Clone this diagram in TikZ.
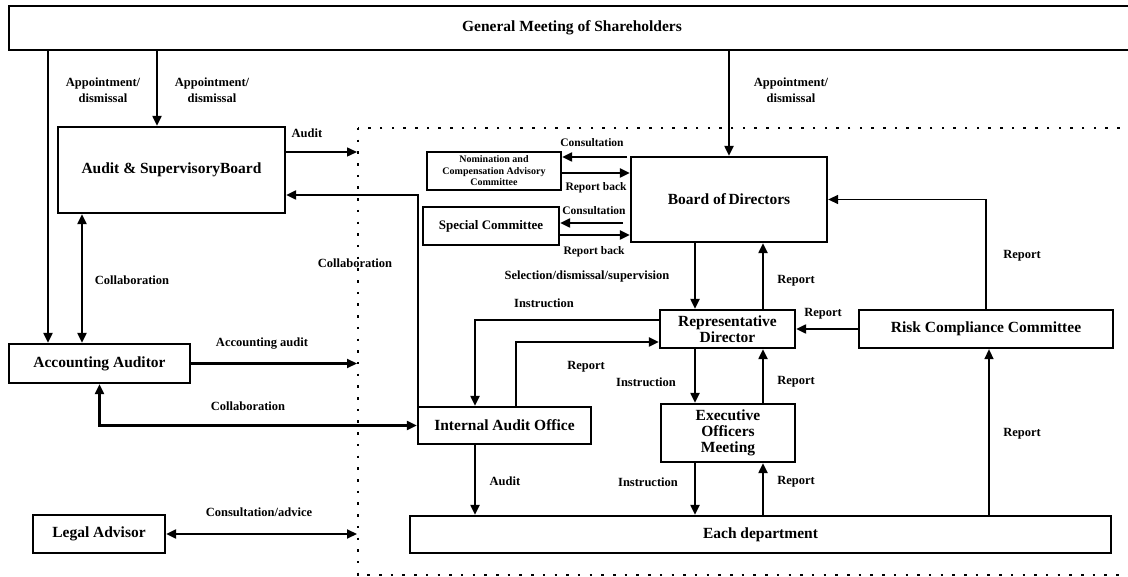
\documentclass[tikz,border=0pt]{standalone}
\usepackage{fontspec}
\setmainfont{Liberation Serif}
\usetikzlibrary{arrows.meta}

\begin{document}
\begin{tikzpicture}[x={(1pt,0pt)}, y={(0pt,-1pt)},
  box/.style={draw=black, line width=2.3pt, rectangle, inner sep=0pt, align=center,
    font=\fontsize{15.5}{16}\selectfont\bfseries},
  lbl/.style={inner sep=0pt, align=center, font=\fontsize{12.5}{15.5}\selectfont\bfseries},
  slbl/.style={inner sep=0pt, align=center, font=\fontsize{11.5}{13}\selectfont\bfseries},
  arr/.style={line width=2.1pt, -{Triangle[length=10pt,width=9pt]}},
  darr/.style={line width=2.1pt, {Triangle[length=10pt,width=9pt]}-{Triangle[length=10pt,width=9pt]}},
  thin arr/.style={line width=1.5pt, -{Triangle[length=10pt,width=9pt]}},
  frame/.style={line width=2.5pt, dash pattern=on 2.5pt off 9.2pt}]

\useasboundingbox (0,0) rectangle (1128,577);

% boxes
\node[box, minimum width=1126, minimum height=44] (GM) at (572,28) {General Meeting of Shareholders};
\node[box, minimum width=227, minimum height=86] (ASB) at (171.5,170) {Audit \& SupervisoryBoard};
\node[box, minimum width=181, minimum height=39] (AA) at (99.5,363.5) {Accounting Auditor};
\node[box, minimum width=132, minimum height=38] (LA) at (99,534) {Legal Advisor};
\node[box, minimum width=134, minimum height=38, font=\fontsize{10}{11.5}\selectfont\bfseries] (NCAC) at (494,171)
  {Nomination and\\Compensation Advisory\\Committee};
\node[box, minimum width=136, minimum height=38, font=\fontsize{13}{15}\selectfont\bfseries] (SC) at (491,226) {Special Committee};
\node[box, minimum width=196, minimum height=85] (BoD) at (729,199.5) {Board of\,Directors};
\node[box, minimum width=135, minimum height=38] (RD) at (727.5,329) {Representative\\Director};
\node[box, minimum width=134, minimum height=58] (EOM) at (728,433) {Executive\\Officers\\Meeting};
\node[box, minimum width=254, minimum height=38] (RCC) at (986,329) {Risk Compliance Committee};
\node[box, minimum width=173, minimum height=37] (IAO) at (504.5,425.5) {Internal Audit Office};
\node[box, minimum width=701, minimum height=37] (ED) at (760.5,534.5) {Each department};

% dotted frame of the company
\draw[frame] (358,128) rectangle (1140,575);

% helper points
\coordinate (p1) at (48,0);
\coordinate (p2) at (157,0);
\coordinate (p3) at (82,0);
\coordinate (fl) at (357,0);
\coordinate (q1) at (0,152);
\coordinate (q2) at (0,195);
\coordinate (c1) at (627,157);
\coordinate (c2) at (0,173);
\coordinate (c3) at (623,223);
\coordinate (c4) at (0,235);
\coordinate (c5) at (695,0);
\coordinate (c6) at (763,0);
\coordinate (c7) at (475,320);
\coordinate (c8) at (516,342);
\coordinate (c10) at (989,0);

% connectors
\draw[arr] (GM.south -| p1) -- (AA.north -| p1);
\draw[arr] (GM.south -| p2) -- (ASB.north -| p2);
\draw[darr] (ASB.south -| p3) -- (AA.north -| p3);
\draw[thin arr] (ASB.east |- q1) -- (fl |- q1);
\draw[arr] ([xshift=1pt]IAO.north west) |- (ASB.east |- q2);
\draw[arr] (AA.east) -- (AA.east -| fl);
\draw[darr] (AA.south) |- (IAO.west);
\draw[darr] (LA.east) -- (LA.east -| fl);
\draw[arr] (GM.south -| BoD.north) -- (BoD.north);
\draw[arr] (c1) -- (c1 -| NCAC.east);
\draw[arr] (NCAC.east |- c2) -- (BoD.west |- c2);
\draw[arr] (c3) -- (c3 -| SC.east);
\draw[arr] (SC.east |- c4) -- (BoD.west |- c4);
\draw[arr] (BoD.south -| c5) -- (RD.north -| c5);
\draw[arr] (RD.north -| c6) -- (BoD.south -| c6);
\draw[arr] (RD.west |- c7) -| (IAO.north -| c7);
\draw[arr] (IAO.north -| c8) |- (RD.west |- c8);
\draw[arr] (RD.south -| c5) -- (EOM.north -| c5);
\draw[arr] (EOM.north -| c6) -- (RD.south -| c6);
\draw[arr] (EOM.south -| c5) -- (ED.north -| c5);
\draw[arr] (ED.north -| c6) -- (EOM.south -| c6);
\draw[arr] (IAO.south -| c7) -- (ED.north -| c7);
\draw[arr] (RCC.west) -- (RD.east);
\draw[thin arr] (RCC.north) |- (BoD.east);
\draw[thin arr] (ED.north -| c10) -- (RCC.south -| c10);

% labels
\node[lbl] (lApp1) at (103,90) {Appointment/\\dismissal};
\node[lbl] (lApp2) at (212,90) {Appointment/\\dismissal};
\node[lbl] (lApp3) at (791,90) {Appointment/\\dismissal};
\node[lbl] (lAud1) at (307,133) {Audit};
\node[lbl] (lCol1) at (132,280) {Collaboration};
\node[lbl] (lCol2) at (355,263) {Collaboration};
\node[lbl] (lAcc) at (262,344) {Accounting audit};
\node[lbl] (lCol3) at (248,406) {Collaboration};
\node[lbl] (lAdv) at (259,512) {Consultation/advice};
\node[slbl] (lCon1) at (592,143) {Consultation};
\node[slbl] (lBck1) at (596,188) {Report back};
\node[slbl] (lCon2) at (594,211) {Consultation};
\node[slbl] (lBck2) at (594,252) {Report back};
\node[lbl] (lSel) at (587,276) {Selection/dismissal/supervision};
\node[lbl] (lIns1) at (544,303) {Instruction};
\node[lbl] (lRep1) at (586,367) {Report};
\node[lbl] (lIns2) at (646,382) {Instruction};
\node[lbl] (lRep2) at (796,281) {Report};
\node[lbl] (lRep3) at (823,314) {Report};
\node[lbl] (lRep4) at (796,382) {Report};
\node[lbl] (lRep5) at (1022,256) {Report};
\node[lbl] (lRep6) at (1022,434) {Report};
\node[lbl] (lAud2) at (505,481) {Audit};
\node[lbl] (lIns3) at (648,482) {Instruction};
\node[lbl] (lRep7) at (796,482) {Report};

\end{tikzpicture}
\end{document}
